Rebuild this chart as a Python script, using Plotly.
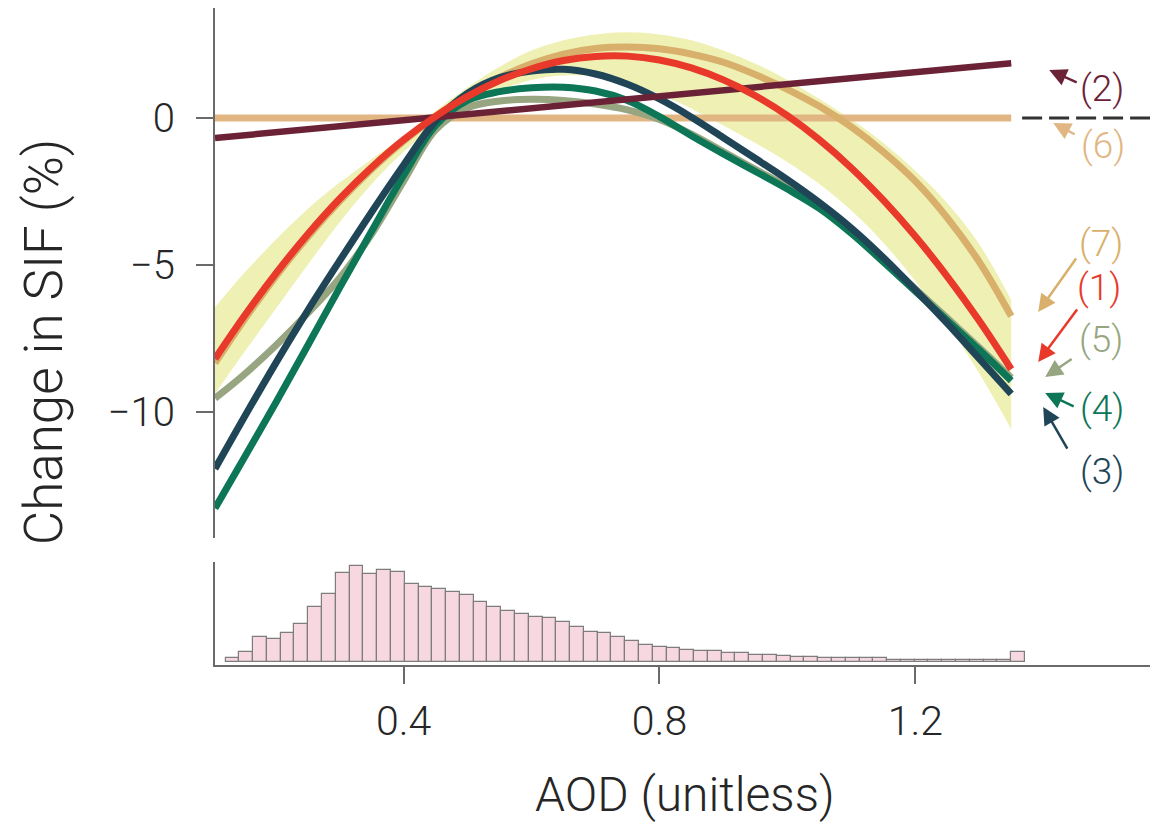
import plotly.graph_objects as go

# ---------------- data ----------------
aod = [0.105, 0.15, 0.2, 0.25, 0.3, 0.35, 0.4, 0.45, 0.5, 0.55, 0.6, 0.65, 0.7,
       0.75, 0.8, 0.85, 0.9, 0.95, 1.0, 1.05, 1.1, 1.15, 1.2, 1.25, 1.3, 1.35]

sif_1 = [-8.2, -6.77, -5.3, -3.96, -2.75, -1.68, -0.74, 0.06, 0.74, 1.28, 1.68, 1.96, 2.1,
         2.11, 1.98, 1.71, 1.3, 0.76, 0.08, -0.74, -1.7, -2.8, -4.03, -5.4, -6.91, -8.56]
sif_7 = [-8.35, -6.9, -5.4, -4.05, -2.83, -1.74, -0.78, 0.06, 0.78, 1.38, 1.85, 2.18, 2.37,
         2.42, 2.36, 2.18, 1.9, 1.48, 0.98, 0.4, -0.3, -1.15, -2.15, -3.4, -4.9, -6.75]
sif_3 = [-11.95, -10.22, -8.35, -6.56, -4.86, -3.2, -1.6, -0.1, 0.85, 1.38, 1.6, 1.66, 1.5,
         1.15, 0.65, 0.03, -0.67, -1.38, -2.1, -2.88, -3.75, -4.75, -5.85, -7.0, -8.2, -9.4]
sif_4 = [-13.3, -11.6, -9.7, -7.75, -5.78, -3.85, -1.95, -0.25, 0.6, 0.9, 1.03, 1.05, 0.92,
         0.6, 0.05, -0.6, -1.22, -1.82, -2.42, -3.08, -3.93, -4.9, -5.9, -6.9, -7.9, -8.95]
sif_5 = [-9.55, -8.75, -7.75, -6.65, -5.45, -3.95, -2.15, -0.4, 0.35, 0.58, 0.64, 0.6, 0.48,
         0.28, -0.05, -0.55, -1.15, -1.75, -2.35, -3.0, -3.85, -4.82, -5.82, -6.82, -7.82, -8.85]
ci_upper = [-6.45, -5.3, -4.15, -3.1, -2.2, -1.4, -0.6, 0.25, 1.05, 1.75, 2.3, 2.65, 2.85,
            2.92, 2.85, 2.65, 2.3, 1.85, 1.3, 0.65, -0.05, -0.85, -1.8, -2.9, -4.3, -6.2]
ci_lower = [-9.4, -8.0, -6.5, -5.0, -3.55, -2.25, -1.15, -0.25, 0.45, 0.95, 1.3, 1.45, 1.42,
            1.2, 0.82, 0.32, -0.25, -0.85, -1.5, -2.25, -3.15, -4.25, -5.55, -7.0, -8.7, -10.6]

aod_linear = [0.105, 1.35]
sif_2 = [-0.68, 1.87]
sif_6 = [0.0, 0.0]
ref_aod = [1.367, 1.567]
ref_sif = [0.0, 0.0]

hist_start = 0.1215
hist_width = 0.02155
hist_counts = [4.3, 10.3, 24.7, 23, 28.7, 38, 54.7, 67.7, 88.7, 96, 88, 92, 90.3, 77.7,
               75.3, 72.7, 70.3, 67, 60.3, 55.3, 51, 48, 45.3, 43.7, 39.7, 35.3, 30.3,
               28.7, 24.7, 20.7, 17, 15, 14, 12.3, 11.3, 11.3, 9.3, 9.3, 7.3, 7.3, 6.3,
               5.3, 5.0, 4.0, 3.7, 3.7, 3.7, 3.7, 2.3, 2.3, 2.3, 2.3, 2.3, 2.3, 2.3, 2.3,
               2.3, 9.7]
hist_centers = [hist_start + (i + 0.5) * hist_width for i in range(len(hist_counts))]

x_ticks = [0.4, 0.8, 1.2]
x_ticktext = ["0.4", "0.8", "1.2"]
y_ticks = [0, -5, -10]

# ---------------- styling ----------------
FONT = "Roboto"
WEIGHT = 300
TXT = "#262626"
C1 = "#e8392a"
C2 = "#6c2236"
C3 = "#1f4557"
C4 = "#0d7657"
C5 = "#97a680"
C6 = "#e2b683"
C7 = "#d8b06b"
BAND = "#eef1b3"
AXIS = "#6a6a6a"

X_RANGE = [0.105, 1.567]
LW = 7

fig = go.Figure()

# confidence band
fig.add_trace(go.Scatter(x=aod, y=ci_upper, mode="lines", line=dict(width=0, shape="spline"),
                         hoverinfo="skip", xaxis="x", yaxis="y"))
fig.add_trace(go.Scatter(x=aod, y=ci_lower, mode="lines", line=dict(width=0, shape="spline"),
                         fill="tonexty", fillcolor=BAND, hoverinfo="skip", xaxis="x", yaxis="y"))

# zero reference
fig.add_trace(go.Scatter(x=aod_linear, y=sif_6, mode="lines", line=dict(color=C6, width=LW),
                         xaxis="x", yaxis="y"))
fig.add_trace(go.Scatter(x=ref_aod, y=ref_sif, mode="lines",
                         line=dict(color="#333333", width=3, dash="20px,7px"),
                         xaxis="x", yaxis="y"))

curves = [(sif_5, C5), (sif_7, C7), (sif_4, C4), (sif_3, C3)]
for vals, col in curves:
    fig.add_trace(go.Scatter(x=aod, y=vals, mode="lines",
                             line=dict(color=col, width=LW, shape="spline", smoothing=1.0),
                             xaxis="x", yaxis="y"))

fig.add_trace(go.Scatter(x=aod_linear, y=sif_2, mode="lines", line=dict(color=C2, width=6.5),
                         xaxis="x", yaxis="y"))
fig.add_trace(go.Scatter(x=aod, y=sif_1, mode="lines",
                         line=dict(color=C1, width=LW, shape="spline", smoothing=1.0),
                         xaxis="x", yaxis="y"))

# AOD distribution
fig.add_trace(go.Bar(x=hist_centers, y=hist_counts, width=hist_width,
                     marker=dict(color="#f7d7e0", line=dict(color="#7d7d7d", width=1.2)),
                     xaxis="x2", yaxis="y2"))

# labels with arrows
labels = [
    ("(2)", C2, 1.492, 1.02, 1.4094, 1.635, 29, 13),
    ("(6)", C6, 1.494, -0.92, 1.4156, -0.17, 23, 12),
    ("(7)", C7, 1.491, -4.29, 1.3922, -6.61, 39, -55),
    ("(1)", C1, 1.488, -5.79, 1.3922, -8.313, 40, -54),
    ("(5)", C5, 1.491, -7.53, 1.4031, -8.824, 28, -19),
    ("(4)", C4, 1.492, -9.88, 1.4031, -9.37, 30, 14),
    ("(3)", C3, 1.492, -12.06, 1.40, -9.847, 25, 43),
]
annotations = []
for txt, col, tx, ty, hx, hy, ax, ay in labels:
    annotations.append(dict(x=tx, y=ty, xref="x", yref="y", text=txt, showarrow=False,
                            font=dict(family=FONT, size=37, color=col, weight=WEIGHT),
                            xanchor="center", yanchor="middle"))
    annotations.append(dict(x=hx, y=hy, xref="x", yref="y", text="", showarrow=True,
                            ax=ax, ay=ay, arrowhead=2, arrowsize=1.4, arrowwidth=2.5,
                            arrowcolor=col, standoff=0))

annotations.append(dict(x=-0.182, y=0.491, xref="paper", yref="paper",
                        text="Change in SIF (%)", textangle=-90, showarrow=False,
                        font=dict(family=FONT, size=53, color=TXT, weight=WEIGHT),
                        xanchor="center", yanchor="middle"))
annotations.append(dict(x=0.5027, y=-0.197, xref="paper", yref="paper",
                        text="AOD (unitless)", showarrow=False,
                        font=dict(family=FONT, size=48, color=TXT, weight=WEIGHT),
                        xanchor="center", yanchor="middle"))

fig.update_layout(
    width=1165, height=828,
    margin=dict(l=215, r=15, t=8, b=163),
    paper_bgcolor="white", plot_bgcolor="white",
    showlegend=False,
    font=dict(family=FONT, color=TXT, weight=WEIGHT),
    xaxis=dict(domain=[0, 1], range=X_RANGE, visible=False, anchor="y"),
    yaxis=dict(domain=[0.1933, 1], range=[-14.31, 3.75], anchor="x",
               tickvals=y_ticks, ticks="outside", ticklen=17, tickwidth=1.5,
               tickcolor=AXIS, showline=True, linecolor=AXIS, linewidth=2,
               showgrid=False, zeroline=False, ticklabelstandoff=13,
               tickfont=dict(family=FONT, size=40, color=TXT, weight=WEIGHT)),
    xaxis2=dict(domain=[0, 1], range=X_RANGE, anchor="y2",
                tickvals=x_ticks, ticktext=x_ticktext, ticks="outside", ticklen=17,
                tickwidth=1.5, tickcolor=AXIS, showline=True, linecolor=AXIS, linewidth=2,
                showgrid=False, zeroline=False, ticklabelstandoff=2,
                tickfont=dict(family=FONT, size=41, color=TXT, weight=WEIGHT)),
    yaxis2=dict(domain=[0, 0.1568], range=[-3, 100], anchor="x2",
                showticklabels=False, ticks="", showline=True, linecolor=AXIS,
                linewidth=2, showgrid=False, zeroline=False),
    bargap=0,
    annotations=annotations,
)

fig.write_html("out.html")
